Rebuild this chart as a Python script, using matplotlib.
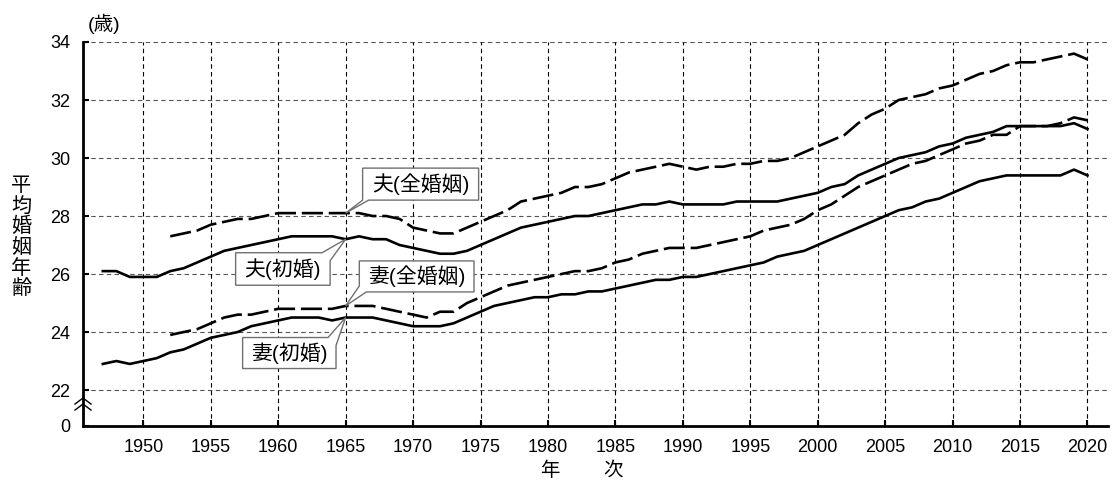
import matplotlib
matplotlib.use("Agg")
import matplotlib.pyplot as plt
from matplotlib.patches import Polygon
from matplotlib.transforms import IdentityTransform
from matplotlib.lines import Line2D

plt.rcParams['font.family'] = ['Liberation Sans', 'Noto Sans CJK JP', 'DejaVu Sans']

# ---------------- data ----------------
years = list(range(1947, 2021))
husband_first = [26.1, 26.1, 25.9, 25.9, 25.9, 26.1, 26.2, 26.4, 26.6, 26.8,
                 26.9, 27.0, 27.1, 27.2, 27.3, 27.3, 27.3, 27.3, 27.2, 27.3,
                 27.2, 27.2, 27.0, 26.9, 26.8, 26.7, 26.7, 26.8, 27.0, 27.2,
                 27.4, 27.6, 27.7, 27.8, 27.9, 28.0, 28.0, 28.1, 28.2, 28.3,
                 28.4, 28.4, 28.5, 28.4, 28.4, 28.4, 28.4, 28.5, 28.5, 28.5,
                 28.5, 28.6, 28.7, 28.8, 29.0, 29.1, 29.4, 29.6, 29.8, 30.0,
                 30.1, 30.2, 30.4, 30.5, 30.7, 30.8, 30.9, 31.1, 31.1, 31.1,
                 31.1, 31.1, 31.2, 31.0]
wife_first = [22.9, 23.0, 22.9, 23.0, 23.1, 23.3, 23.4, 23.6, 23.8, 23.9,
              24.0, 24.2, 24.3, 24.4, 24.5, 24.5, 24.5, 24.4, 24.5, 24.5,
              24.5, 24.4, 24.3, 24.2, 24.2, 24.2, 24.3, 24.5, 24.7, 24.9,
              25.0, 25.1, 25.2, 25.2, 25.3, 25.3, 25.4, 25.4, 25.5, 25.6,
              25.7, 25.8, 25.8, 25.9, 25.9, 26.0, 26.1, 26.2, 26.3, 26.4,
              26.6, 26.7, 26.8, 27.0, 27.2, 27.4, 27.6, 27.8, 28.0, 28.2,
              28.3, 28.5, 28.6, 28.8, 29.0, 29.2, 29.3, 29.4, 29.4, 29.4,
              29.4, 29.4, 29.6, 29.4]
years_all = list(range(1952, 2021))
husband_all = [27.3, 27.4, 27.5, 27.7, 27.8, 27.9, 27.9, 28.0, 28.1, 28.1,
               28.1, 28.1, 28.1, 28.1, 28.1, 28.0, 28.0, 27.9, 27.6, 27.5,
               27.4, 27.4, 27.6, 27.8, 28.0, 28.2, 28.5, 28.6, 28.7, 28.8,
               29.0, 29.0, 29.1, 29.3, 29.5, 29.6, 29.7, 29.8, 29.7, 29.6,
               29.7, 29.7, 29.8, 29.8, 29.9, 29.9, 30.0, 30.2, 30.4, 30.6,
               30.8, 31.2, 31.5, 31.7, 32.0, 32.1, 32.2, 32.4, 32.5, 32.7,
               32.9, 33.0, 33.2, 33.3, 33.3, 33.4, 33.5, 33.6, 33.4]
wife_all = [23.9, 24.0, 24.1, 24.3, 24.5, 24.6, 24.6, 24.7, 24.8, 24.8,
            24.8, 24.8, 24.8, 24.9, 24.9, 24.9, 24.8, 24.7, 24.6, 24.5,
            24.7, 24.7, 25.0, 25.2, 25.4, 25.6, 25.7, 25.8, 25.9, 26.0,
            26.1, 26.1, 26.2, 26.4, 26.5, 26.7, 26.8, 26.9, 26.9, 26.9,
            27.0, 27.1, 27.2, 27.3, 27.5, 27.6, 27.7, 27.9, 28.2, 28.4,
            28.7, 29.0, 29.2, 29.4, 29.6, 29.8, 29.9, 30.1, 30.3, 30.5,
            30.6, 30.8, 30.8, 31.1, 31.1, 31.1, 31.2, 31.4, 31.3]

x_ticks = list(range(1950, 2021, 5))
y_ticks = list(range(22, 35, 2))
y_zero_pos = 20.76
label_husband_all = "夫(全婚姻)"
label_husband_first = "夫(初婚)"
label_wife_all = "妻(全婚姻)"
label_wife_first = "妻(初婚)"
callout_year = 1965

# ---------------- figure ----------------
W, H = 1114, 482
fig = plt.figure(figsize=(W / 100, H / 100), dpi=100)
ax = fig.add_axes([83 / W, 56 / H, 1025 / W, 384 / H])
ax.set_xlim(1945.53, 2021.52)
ax.set_ylim(y_zero_pos, 34)

# grid
for yv in y_ticks:
    ax.axhline(yv, color='#555555', lw=0.8, dashes=(4, 3), zorder=1)
for xv in x_ticks:
    ax.axvline(xv, color='black', lw=0.8, dashes=(4, 3), zorder=1)

lw = 1.9
ax.plot(years, husband_first, color='black', lw=lw, zorder=3)
ax.plot(years, wife_first, color='black', lw=lw, zorder=3)
ax.plot(years_all, husband_all, color='black', lw=lw, dashes=(8, 2.2), zorder=3)
ax.plot(years_all, wife_all, color='black', lw=lw, dashes=(8, 2.2), zorder=3)

# spines
for s in ['top', 'right']:
    ax.spines[s].set_visible(False)
ax.spines['left'].set_linewidth(2.0)
ax.spines['bottom'].set_linewidth(2.0)

ax.set_xticks(x_ticks)
ax.set_xticklabels([str(v) for v in x_ticks])
ax.set_yticks([y_zero_pos] + y_ticks)
ax.set_yticklabels(['0'] + [str(v) for v in y_ticks])
ax.tick_params(axis='both', direction='in', length=4, width=1.5, labelsize=13,
               colors='black')
ax.tick_params(axis='x', pad=9)
ax.tick_params(axis='y', pad=9)

# axis-break symbol (two chevrons on the left spine)
fig.canvas.draw()
to_disp = ax.transData.transform
sx, sy = to_disp((1945.53, 22))
for off in (8, 14):
    yy = sy - off
    ln = Line2D([sx - 8, sx, sx + 8], [yy - 6, yy, yy - 6], transform=IdentityTransform(),
                color='black', lw=1.0, clip_on=False, zorder=6)
    fig.add_artist(ln)


def callout(year, value, text, L, T, R, B, wedge):
    tx, ty = to_disp((year, value))
    # offsets given in image pixels (y downward) relative to tip
    def P(dx, dy):
        return (tx + dx, ty - dy)
    if wedge == 'bl_bottom':
        pts = [P(L, T), P(R, T), P(R, B), P(L + 6, B), (tx, ty), P(L, B)]
    elif wedge == 'bl_corner':
        pts = [P(L, T), P(R, T), P(R, B), P(L + 7, B), (tx, ty), P(L, B - 6)]
    elif wedge == 'tr_corner':
        pts = [P(L, T), P(R - 8, T), (tx, ty), P(R, T + 8), P(R, B), P(L, B)]
    poly = Polygon(pts, closed=True, transform=IdentityTransform(), facecolor='white',
                   edgecolor='#707070', lw=1.0, clip_on=False, zorder=7)
    fig.add_artist(poly)
    cx, cy = P((L + R) / 2, (T + B) / 2)
    fig.text(cx / W, cy / H, text, fontsize=15, ha='center', va='center',
             color='black', zorder=8)


i_all = years_all.index(callout_year)
i_first = years.index(callout_year)
callout(callout_year, husband_all[i_all], label_husband_all, 17, -45, 133, -13, 'bl_bottom')
callout(callout_year, husband_first[i_first], label_husband_first, -110, 13.5, -15.5, 46, 'tr_corner')
callout(callout_year, wife_all[i_all], label_wife_all, 13.7, -45, 128.4, -14, 'bl_corner')
callout(callout_year, wife_first[i_first], label_wife_first, -103, 20, -9.6, 51, 'tr_corner')

# texts
fig.text(88 / W, 1 - 24 / H, "(歳)", fontsize=14, ha='left', va='center')
fig.text(21 / W, 1 - 237 / H, "\n".join("平均婚姻年齢"), fontsize=14.5, ha='center',
         va='center', linespacing=1.1)
fig.text(550 / W, 2 / H, "年", fontsize=14, ha='center', va='bottom')
fig.text(613 / W, 2 / H, "次", fontsize=14, ha='center', va='bottom')

fig.savefig("out.png", dpi=100)
